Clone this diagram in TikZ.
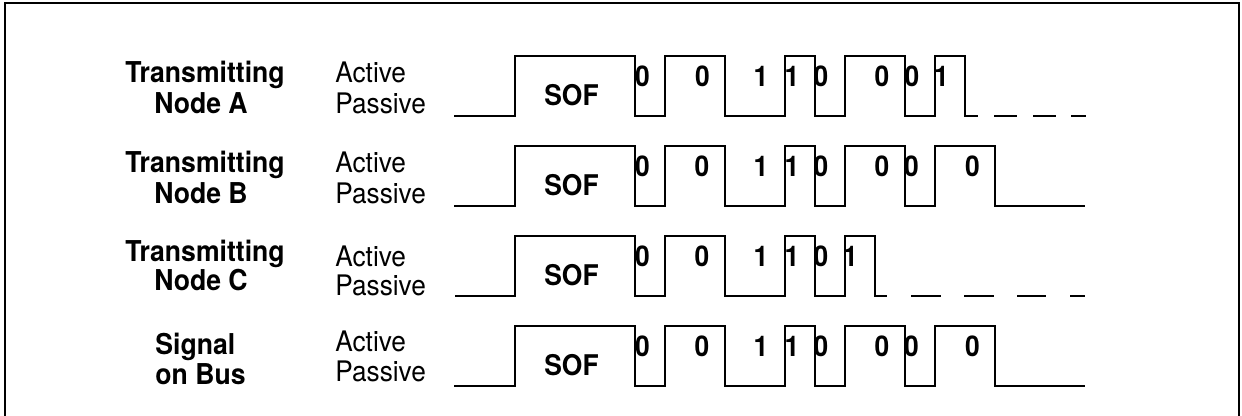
\documentclass[tikz,border=0pt]{standalone}
\usepackage{fontspec}
\setmainfont{TeX Gyre Heros}
\newcommand{\tallx}[1]{\scalebox{1}[1.08]{#1}}
\begin{document}
\begin{tikzpicture}[x=0.5pt,y=-0.5pt,
  wave/.style={line width=1.2pt, line join=miter},
  frameline/.style={line width=1.1pt},
  head/.style={font=\fontsize{13.3}{15}\selectfont\bfseries, inner sep=0, anchor=base},
  state/.style={font=\fontsize{13.1}{15}\selectfont, inner sep=0, anchor=base west},
  bit/.style={font=\fontsize{13.2}{15}\selectfont\bfseries, inner sep=0, anchor=base},
]
\useasboundingbox (0,0) rectangle (1242,416);
\clip (0,0) rectangle (1242,416);
\draw[frameline] (5.3,440) -- (5.3,2.8) -- (1238.8,2.8) -- (1238.8,440);

% ---------- Row A ----------
\begin{scope}[shift={(0,116)}]
\node[head] (tA1) at (205,-33) {\tallx{Transmitting}};
\node[head] (tA2) at (201,-2) {\tallx{Node A}};
\node[state] (actA) at (335,-33) {\tallx{Active}};
\node[state] (pasA) at (335,-2) {\tallx{Passive}};
\draw[wave] (454,0) -- (515,0) -- (515,-60) -- (635,-60) -- (635,0) -- (665,0) -- (665,-60) -- (725,-60) -- (725,0) -- (785,0) -- (785,-60) -- (815,-60) -- (815,0) -- (845,0) -- (845,-60) -- (905,-60) -- (905,0) -- (935,0) -- (935,-60) -- (965,-60) -- (965,0) -- (978,0);
\draw[wave] (994,0) -- (1017,0) (1033,0) -- (1056,0) (1071,0) -- (1086,0);
\node[bit] (sofA) at (571.5,-10) {\tallx{SOF}};
\node[bit] (bA1) at (642.5,-29) {\tallx{0}};
\node[bit] (bA2) at (702.5,-29) {\tallx{0}};
\node[bit] (bA3) at (761,-29) {\tallx{1}};
\node[bit] (bA4) at (792,-29) {\tallx{1}};
\node[bit] (bA5) at (821,-29) {\tallx{0}};
\node[bit] (bA6) at (882,-29) {\tallx{0}};
\node[bit] (bA7) at (912,-29) {\tallx{0}};
\node[bit] (bA8) at (941.5,-29) {\tallx{1}};
\end{scope}

% ---------- Row B ----------
\begin{scope}[shift={(0,206)}]
\node[head] (tB1) at (205,-33) {\tallx{Transmitting}};
\node[head] (tB2) at (201,-2) {\tallx{Node B}};
\node[state] (actB) at (335,-33) {\tallx{Active}};
\node[state] (pasB) at (335,-2) {\tallx{Passive}};
\draw[wave] (454,0) -- (515,0) -- (515,-60) -- (635,-60) -- (635,0) -- (665,0) -- (665,-60) -- (725,-60) -- (725,0) -- (785,0) -- (785,-60) -- (815,-60) -- (815,0) -- (845,0) -- (845,-60) -- (905,-60) -- (905,0) -- (935,0) -- (935,-60) -- (995,-60) -- (995,0) -- (1085,0);
\node[bit] (sofB) at (571.5,-10) {\tallx{SOF}};
\node[bit] (bB1) at (642.5,-29) {\tallx{0}};
\node[bit] (bB2) at (702,-29) {\tallx{0}};
\node[bit] (bB3) at (761,-29) {\tallx{1}};
\node[bit] (bB4) at (792,-29) {\tallx{1}};
\node[bit] (bB5) at (821,-29) {\tallx{0}};
\node[bit] (bB6) at (882,-29) {\tallx{0}};
\node[bit] (bB7) at (911.5,-29) {\tallx{0}};
\node[bit] (bB8) at (972.5,-29) {\tallx{0}};
\end{scope}

% ---------- Row C ----------
\begin{scope}[shift={(0,296)}]
\node[head] (tC1) at (205,-34) {\tallx{Transmitting}};
\node[head] (tC2) at (201,-5) {\tallx{Node C}};
\node[state] (actC) at (335,-29) {\tallx{Active}};
\node[state] (pasC) at (335,0) {\tallx{Passive}};
\draw[wave] (455,0) -- (515,0) -- (515,-60) -- (635,-60) -- (635,0) -- (665,0) -- (665,-60) -- (725,-60) -- (725,0) -- (785,0) -- (785,-60) -- (815,-60) -- (815,0) -- (845,0) -- (845,-60) -- (875,-60) -- (875,0) -- (887,0);
\draw[wave] (911,0) -- (941,0) (964,0) -- (994,0) (1017,0) -- (1046,0) (1070,0) -- (1085,0);
\node[bit] (sofC) at (571.5,-10) {\tallx{SOF}};
\node[bit] (bC1) at (642.5,-29) {\tallx{0}};
\node[bit] (bC2) at (702,-29) {\tallx{0}};
\node[bit] (bC3) at (761,-29) {\tallx{1}};
\node[bit] (bC4) at (792,-29) {\tallx{1}};
\node[bit] (bC5) at (821,-29) {\tallx{0}};
\node[bit] (bC6) at (850.5,-29) {\tallx{1}};
\end{scope}

% ---------- Row D ----------
\begin{scope}[shift={(0,386)}]
\node[head, anchor=base west] (tD1) at (155,-31) {\tallx{Signal}};
\node[head, anchor=base west] (tD2) at (155,-1) {\tallx{on Bus}};
\node[state] (actD) at (335,-34.3) {\tallx{Active}};
\node[state] (pasD) at (335,-4.3) {\tallx{Passive}};
\draw[wave] (454,0) -- (515,0) -- (515,-60) -- (635,-60) -- (635,0) -- (665,0) -- (665,-60) -- (725,-60) -- (725,0) -- (785,0) -- (785,-60) -- (815,-60) -- (815,0) -- (845,0) -- (845,-60) -- (905,-60) -- (905,0) -- (935,0) -- (935,-60) -- (995,-60) -- (995,0) -- (1085,0);
\node[bit] (sofD) at (571.5,-10) {\tallx{SOF}};
\node[bit] (bD1) at (642.5,-29) {\tallx{0}};
\node[bit] (bD2) at (702,-29) {\tallx{0}};
\node[bit] (bD3) at (761,-29) {\tallx{1}};
\node[bit] (bD4) at (792,-29) {\tallx{1}};
\node[bit] (bD5) at (821,-29) {\tallx{0}};
\node[bit] (bD6) at (882,-29) {\tallx{0}};
\node[bit] (bD7) at (911.5,-29) {\tallx{0}};
\node[bit] (bD8) at (972.5,-29) {\tallx{0}};
\end{scope}
\end{tikzpicture}
\end{document}
